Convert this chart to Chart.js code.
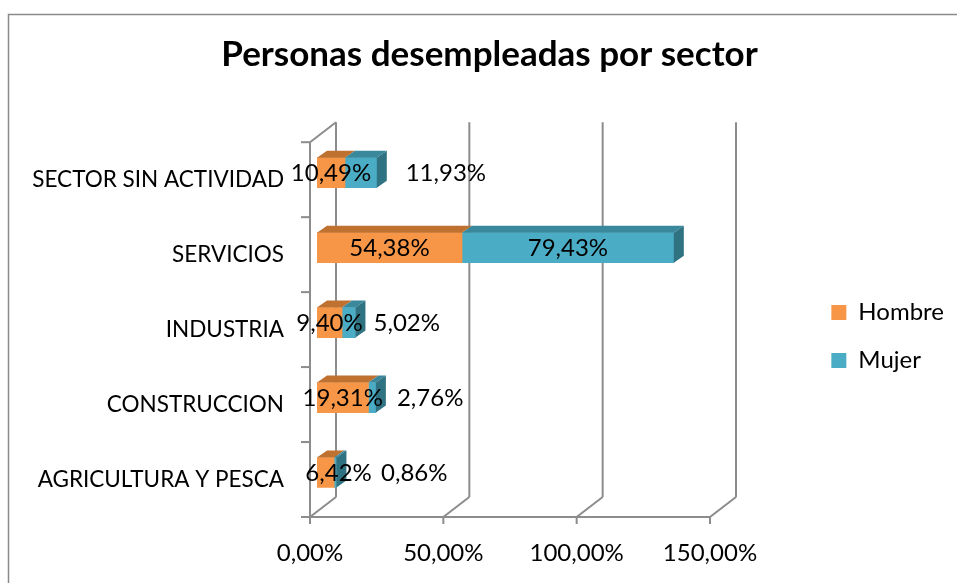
<!DOCTYPE html>
<html><head><meta charset="utf-8">
<script src="https://cdn.jsdelivr.net/npm/chart.js@4.4.1/dist/chart.umd.min.js"></script>
<style>html,body{margin:0;padding:0;background:#fff;overflow:hidden}</style>
</head><body>
<canvas id="c" width="957" height="583"></canvas>
<script>
// ---- data ----
const title = 'Personas desempleadas por sector';
const categories = ['SECTOR SIN ACTIVIDAD', 'SERVICIOS', 'INDUSTRIA', 'CONSTRUCCION', 'AGRICULTURA Y PESCA'];
const seriesNames = ['Hombre', 'Mujer'];
const hombre = [10.49, 54.38, 9.40, 19.31, 6.42];
const mujer = [11.93, 79.43, 5.02, 2.76, 0.86];
const xTicks = [0, 50, 100, 150];

// ---- styling ----
const FONT = 'Lato';
const colors = ['#F79646', '#4BACC6'];
const topColors = ['#BF7130', '#3A889C'];
const sideColors = ['#B86A2B', '#2F7282'];
const gridColor = '#8C8C8C';
const PX_PER_PCT = 400 / 150;
const PAD_LEFT = 25, PAD_RIGHT = 3, PLOT_LEFT = 317;
const LEG_FONT = 24, LEG_BOX = 15, LEG_PAD = 24;
// label nudges (px, from segment centre) mimicking the hand-placed labels
const hombreLabelNudge = [0, 0, 0, 0, 13];
const mujerLabelNudge = [85, 0, 58, 58, 79];

const fmt = v => v.toFixed(2).replace('.', ',') + '%';

// legend width (as Chart.js computes it) -> right edge of the plot -> axis max
const mctx = document.createElement('canvas').getContext('2d');
mctx.font = LEG_FONT + 'px ' + FONT;
const legTextW = Math.max(...seriesNames.map(s => mctx.measureText(s).width));
const legendW = LEG_PAD + LEG_BOX + LEG_FONT / 2 + legTextW + 10;
const plotRight = 957 - PAD_RIGHT - legendW;
const xMax = (plotRight - PLOT_LEFT) / PX_PER_PCT;

const framePlugin = {
  id: 'frame',
  beforeDraw(chart) {
    const ctx = chart.ctx;
    ctx.save();
    ctx.fillStyle = '#fff';
    ctx.fillRect(0, 0, chart.width, chart.height);
    ctx.strokeStyle = '#8A8A8A';
    ctx.lineWidth = 1.5;
    ctx.strokeRect(8.5, 14.5, 1200, 1200);
    ctx.restore();
  },
  beforeDatasetsDraw(chart) {
    const ctx = chart.ctx, xs = chart.scales.x, ca = chart.chartArea;
    const F = {dx: -7, dy: 7}, B = {dx: 19, dy: -13};
    const top = ca.top, bot = ca.bottom;
    ctx.save();
    ctx.strokeStyle = gridColor;
    ctx.lineWidth = 2;
    const line = (x1, y1, x2, y2) => { ctx.beginPath(); ctx.moveTo(x1, y1); ctx.lineTo(x2, y2); ctx.stroke(); };
    const x0 = xs.getPixelForValue(xTicks[0]);
    const xN = xs.getPixelForValue(xTicks[xTicks.length - 1]);
    xTicks.forEach(v => {
      const px = xs.getPixelForValue(v);
      line(px + B.dx, top + B.dy, px + B.dx, bot + B.dy);
      line(px + F.dx, bot + F.dy, px + B.dx, bot + B.dy);
      line(px + F.dx, bot + F.dy, px + F.dx, bot + F.dy + 7);
    });
    line(x0 + F.dx - 9, bot + F.dy, xN + F.dx, bot + F.dy);
    line(x0 + F.dx, top + F.dy, x0 + F.dx, bot + F.dy);
    line(x0 + F.dx, top + F.dy, x0 + B.dx, top + B.dy);
    const n = categories.length;
    for (let k = 0; k <= n; k++) {
      const y = top + k * (bot - top) / n + F.dy;
      line(x0 + F.dx - 9, y, x0 + F.dx, y);
    }
    ctx.restore();
  },
  afterDatasetsDraw(chart) {
    const ctx = chart.ctx;
    const D = {dx: 10, dy: -7};
    ctx.save();
    const nd = chart.data.datasets.length;
    for (let di = 0; di < nd; di++) {
      const meta = chart.getDatasetMeta(di);
      meta.data.forEach(bar => {
        const p = bar.getProps(['x', 'y', 'base', 'height'], true);
        const t = p.y - p.height / 2;
        const l = Math.min(p.base, p.x), r = Math.max(p.base, p.x);
        ctx.fillStyle = topColors[di];
        ctx.beginPath();
        ctx.moveTo(l, t); ctx.lineTo(l + D.dx, t + D.dy); ctx.lineTo(r + D.dx, t + D.dy); ctx.lineTo(r, t);
        ctx.closePath(); ctx.fill();
        if (di === nd - 1) {
          ctx.fillStyle = sideColors[di];
          ctx.beginPath();
          ctx.moveTo(r, t); ctx.lineTo(r + D.dx, t + D.dy); ctx.lineTo(r + D.dx, t + p.height + D.dy); ctx.lineTo(r, t + p.height);
          ctx.closePath(); ctx.fill();
        }
      });
    }
    // data labels
    ctx.fillStyle = '#000';
    ctx.font = '24px ' + FONT;
    ctx.textAlign = 'center';
    ctx.textBaseline = 'middle';
    const nudges = [hombreLabelNudge, mujerLabelNudge];
    for (let di = 0; di < nd; di++) {
      const meta = chart.getDatasetMeta(di);
      const vals = chart.data.datasets[di].data;
      meta.data.forEach((bar, i) => {
        const p = bar.getProps(['x', 'y', 'base'], true);
        const cx = (p.x + p.base) / 2 + nudges[di][i];
        ctx.fillText(fmt(vals[i]), cx, p.y + 1);
      });
    }
    ctx.restore();
  }
};

new Chart(document.getElementById('c'), {
  type: 'bar',
  data: {
    labels: categories,
    datasets: [
      {label: seriesNames[0], data: hombre, backgroundColor: colors[0], borderWidth: 0, barThickness: 30},
      {label: seriesNames[1], data: mujer, backgroundColor: colors[1], borderWidth: 0, barThickness: 30}
    ]
  },
  options: {
    indexAxis: 'y',
    responsive: false,
    animation: false,
    events: [],
    layout: {padding: {left: PAD_LEFT, right: PAD_RIGHT, top: 0, bottom: 0}},
    scales: {
      x: {
        stacked: true,
        min: 0,
        max: xMax,
        afterBuildTicks(s) { s.ticks = xTicks.map(v => ({value: v})); },
        afterFit(s) { s.height = 73; },
        grid: {display: false, drawTicks: false},
        border: {display: false},
        ticks: {
          color: '#000', font: {family: FONT, size: 24}, padding: 29, labelOffset: -7,
          maxRotation: 0, autoSkip: false,
          callback: v => fmt(v)
        }
      },
      y: {
        stacked: true,
        afterFit(s) { s.width = PLOT_LEFT - PAD_LEFT; },
        grid: {display: false, drawTicks: false},
        border: {display: false},
        ticks: {color: '#000', font: {family: FONT, size: 22.5}, padding: 33, labelOffset: 7}
      }
    },
    plugins: {
      title: {
        display: true, text: title, color: '#000',
        font: {family: FONT, size: 35, weight: 'bold'},
        padding: {top: 34, bottom: 59.2}
      },
      legend: {
        position: 'right',
        fullSize: false,
        title: {display: true, text: ' ', padding: {top: 7, bottom: 6.6}},
        labels: {boxWidth: LEG_BOX, boxHeight: LEG_BOX, padding: LEG_PAD, color: '#000', font: {family: FONT, size: LEG_FONT}}
      },
      tooltip: {enabled: false}
    }
  },
  plugins: [framePlugin]
});
</script>
</body></html>
